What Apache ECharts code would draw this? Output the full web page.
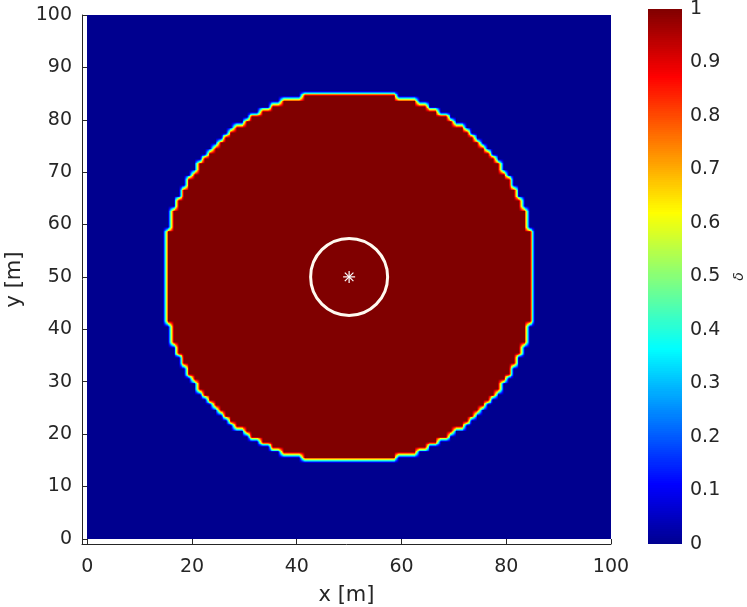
<!DOCTYPE html>
<html><head><meta charset="utf-8">
<script src="https://cdn.jsdelivr.net/npm/echarts@6/dist/echarts.min.js"></script>
<style>html,body{margin:0;padding:0;background:#fff}#c{width:747px;height:607px}</style>
</head><body><div id="c"></div>
<script>
// ---- tick labels ----
const xTickValues = [0, 20, 40, 60, 80, 100];
const yTickValues = [0, 10, 20, 30, 40, 50, 60, 70, 80, 90, 100];
const colorTickValues = [0, 0.1, 0.2, 0.3, 0.4, 0.5, 0.6, 0.7, 0.8, 0.9, 1];

// ---- field: 100 x 100 cells of 1 m, delta = 1 inside, 0 outside ----
const domainCells = 100;
// cell rows (y from rowY to rowY+1) that hold delta = 1, with their x extents
const rowY = [15,16,17,18,19,20,21,22,23,24,25,26,27,28,29,30,31,32,33,34,35,36,37,38,39,40,
  41,42,43,44,45,46,47,48,49,50,51,52,53,54,55,56,57,58,
  59,60,61,62,63,64,65,66,67,68,69,70,71,72,73,74,75,76,77,78,79,80,81,82,83,84];
const rowLeft = [41,37,35,33,31,30,28,27,26,25,24,23,22,21,21,20,19,19,18,18,17,17,16,16,16,16,
  15,15,15,15,15,15,15,15,15,15,15,15,15,15,15,15,15,15,
  16,16,16,16,17,17,18,18,19,19,20,21,21,22,23,24,25,26,27,28,30,31,33,35,37,41];
const rowRight = [59,63,65,67,69,70,72,73,74,75,76,77,78,79,79,80,81,81,82,82,83,83,84,84,84,84,
  85,85,85,85,85,85,85,85,85,85,85,85,85,85,85,85,85,85,
  84,84,84,84,83,83,82,82,81,81,80,79,79,78,77,76,75,74,73,72,70,69,67,65,63,59];

// ---- overlays ----
const ringCenter = [50, 50];
const ringRadius = 7.35;
const sourcePoint = [50, 50];

// ---- build cell table ----
const cell = [];
for (let j = 0; j < domainCells; j++) {
  const row = new Array(domainCells).fill(0);
  const k = rowY.indexOf(j);
  if (k >= 0) for (let i = rowLeft[k]; i < rowRight[k]; i++) row[i] = 1;
  cell.push(row);
}
// interpolated shading between cell centres (like shading interp)
const bands = [[0, 0.5, 0, 0]];
for (let b = 1; b < domainCells; b++) bands.push([b - 0.5, b + 0.5, b - 1, b]);
bands.push([domainCells - 0.5, domainCells, domainCells - 1, domainCells - 1]);
const SUB = 6;
const fieldData = [];
for (const by of bands) {
  let run = null;
  for (const bx of bands) {
    const v00 = cell[by[2]][bx[2]], v10 = cell[by[2]][bx[3]];
    const v01 = cell[by[3]][bx[2]], v11 = cell[by[3]][bx[3]];
    if (v00 === v10 && v00 === v01 && v00 === v11) {
      if (run && run[4] === v00 && run[1] === bx[0]) run[1] = bx[1];
      else { run = [bx[0], bx[1], by[0], by[1], v00]; fieldData.push(run); }
    } else {
      run = null;
      const wx = bx[1] - bx[0], wy = by[1] - by[0];
      for (let sv = 0; sv < SUB; sv++) {
        for (let su = 0; su < SUB; su++) {
          const u = (su + 0.5) / SUB, v = (sv + 0.5) / SUB;
          const val = v00 * (1 - u) * (1 - v) + v10 * u * (1 - v) + v01 * (1 - u) * v + v11 * u * v;
          fieldData.push([bx[0] + wx * su / SUB, bx[0] + wx * (su + 1) / SUB,
                          by[0] + wy * sv / SUB, by[0] + wy * (sv + 1) / SUB, val]);
        }
      }
    }
  }
}
// colorbar levels
const cbData = [];
const cbSteps = 256;
for (let i = 0; i < cbSteps; i++) cbData.push([0, 1, i / cbSteps, (i + 1) / cbSteps, (i + 0.5) / cbSteps]);

// jet(64) palette
function jetPalette(n) {
  const c = x => Math.max(0, Math.min(1, x));
  const out = [];
  for (let i = 1; i <= n; i++) {
    const x = i / n;
    const r = c(1.5 - Math.abs(4 * x - 3)), g = c(1.5 - Math.abs(4 * x - 2)), b = c(1.5 - Math.abs(4 * x - 1));
    out.push('rgb(' + Math.round(r * 255) + ',' + Math.round(g * 255) + ',' + Math.round(b * 255) + ')');
  }
  return out;
}

const txt = '#262626';
const font = 'DejaVu Sans';

function rectItem(params, api) {
  const a = api.coord([api.value(0), api.value(3)]);
  const b = api.coord([api.value(1), api.value(2)]);
  const x0 = Math.round(a[0]), x1 = Math.round(b[0]);
  const y0 = Math.round(a[1]), y1 = Math.round(b[1]);
  if (x1 <= x0 || y1 <= y0) return null;
  return {
    type: 'rect',
    shape: { x: x0, y: y0, width: x1 - x0, height: y1 - y0 },
    style: { fill: api.visual('color') }
  };
}

const chart = echarts.init(document.getElementById('c'), null, { renderer: 'canvas' });
chart.setOption({
  animation: false,
  backgroundColor: '#fff',
  grid: [
    { left: 82, top: 15, width: 529, height: 529, outerBoundsMode: 'none', containLabel: false },
    { left: 648, top: 9, width: 34, height: 535, outerBoundsMode: 'none', containLabel: false }
  ],
  xAxis: [
    {
      type: 'value', gridIndex: 0, min: -1, max: 100,
      axisLine: { show: true, onZero: false, lineStyle: { color: txt, width: 1 } },
      axisTick: { show: true, inside: true, length: 5, customValues: xTickValues, lineStyle: { color: txt } },
      axisLabel: { customValues: xTickValues, fontSize: 19, color: txt, margin: 14, fontFamily: font },
      splitLine: { show: false },
      name: 'x [m]', nameLocation: 'middle', nameGap: 41,
      nameTextStyle: { fontSize: 21, color: txt, fontFamily: font }
    },
    { type: 'value', gridIndex: 1, min: 0, max: 1, show: false }
  ],
  yAxis: [
    {
      type: 'value', gridIndex: 0, min: -1, max: 100,
      axisLine: { show: true, onZero: false, lineStyle: { color: txt, width: 1 } },
      axisTick: { show: true, inside: true, length: 5, customValues: yTickValues, lineStyle: { color: txt } },
      axisLabel: { customValues: yTickValues, fontSize: 19, color: txt, margin: 10, fontFamily: font },
      splitLine: { show: false },
      name: 'y [m]', nameLocation: 'middle', nameGap: 56, nameRotate: 90,
      nameTextStyle: { fontSize: 21, color: txt, fontFamily: font }
    },
    {
      type: 'value', gridIndex: 1, min: 0, max: 1, interval: 0.1, position: 'right',
      axisLine: { show: false }, axisTick: { show: false }, splitLine: { show: false },
      axisLabel: { fontSize: 19, color: txt, margin: 8, fontFamily: font,
        formatter: v => String(+v.toFixed(1)) },
      name: 'δ', nameLocation: 'middle', nameGap: 50, nameRotate: 90,
      nameTextStyle: { fontSize: 14, color: txt, fontFamily: font, fontStyle: 'italic' }
    }
  ],
  visualMap: {
    type: 'continuous', show: false, min: 0, max: 1, dimension: 4,
    seriesIndex: [0, 2], inRange: { color: jetPalette(64) }
  },
  series: [
    {
      type: 'custom', xAxisIndex: 0, yAxisIndex: 0, progressive: 0,
      dimensions: ['x0', 'x1', 'y0', 'y1', 'delta'], encode: { x: [0, 1], y: [2, 3] },
      renderItem: rectItem, data: fieldData, silent: true
    },
    {
      type: 'custom', xAxisIndex: 0, yAxisIndex: 0, silent: true,
      data: [[ringCenter[0], ringCenter[1], ringRadius, sourcePoint[0], sourcePoint[1]]],
      renderItem: function (params, api) {
        const c = api.coord([api.value(0), api.value(1)]);
        const r = api.size([api.value(2), api.value(2)])[0];
        const p = api.coord([api.value(3), api.value(4)]);
        const s = 6, d = 4.3;
        const ls = { stroke: '#ffffff', lineWidth: 1.2 };
        return {
          type: 'group', children: [
            { type: 'circle', shape: { cx: c[0], cy: c[1], r: r }, style: { fill: null, stroke: '#fffaf0', lineWidth: 3 } },
            { type: 'line', shape: { x1: p[0] - s, y1: p[1], x2: p[0] + s, y2: p[1] }, style: ls },
            { type: 'line', shape: { x1: p[0], y1: p[1] - s, x2: p[0], y2: p[1] + s }, style: ls },
            { type: 'line', shape: { x1: p[0] - d, y1: p[1] - d, x2: p[0] + d, y2: p[1] + d }, style: ls },
            { type: 'line', shape: { x1: p[0] - d, y1: p[1] + d, x2: p[0] + d, y2: p[1] - d }, style: ls }
          ]
        };
      }
    },
    {
      type: 'custom', xAxisIndex: 1, yAxisIndex: 1, progressive: 0, silent: true,
      dimensions: ['x0', 'x1', 'y0', 'y1', 'level'], encode: { x: [0, 1], y: [2, 3] },
      renderItem: rectItem, data: cbData
    }
  ]
});
</script></body></html>
